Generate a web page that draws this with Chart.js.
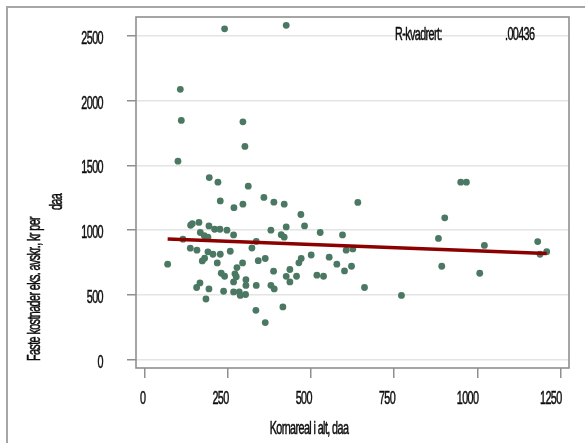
<!DOCTYPE html>
<html>
<head>
<meta charset="utf-8">
<script src="https://cdn.jsdelivr.net/npm/chart.js@4/dist/chart.umd.min.js"></script>
<style>
  html, body { margin: 0; padding: 0; background: #fff; overflow: hidden; }
  #wrap { position: relative; width: 585px; height: 443px; }
  #frame {
    position: absolute; left: 6px; top: 6px; width: 700px; height: 600px;
    border-top: 2px solid #a6a6a6; border-left: 2px solid #a6a6a6;
    pointer-events: none;
  }
  canvas { position: absolute; left: 0; top: 0; }
</style>
</head>
<body>
<div id="wrap">
  <canvas id="myChart" width="585" height="443"></canvas>
  <div id="frame"></div>
</div>
<script>
// Kornareal (daa) and faste kostnader per daa for each farm
const area = [
  241, 426, 108, 111, 296, 302, 101, 195, 221, 312,
  950, 967, 228, 269, 296, 359, 389, 420, 470, 641,
  902, 481, 426, 411, 420, 528, 595, 606, 626, 501,
  555, 471, 464, 578, 437, 601, 622, 426, 457, 518,
  538, 437, 661, 772, 416, 883, 1021, 893, 1007, 1181,
  1188, 1208, 139, 144, 164, 194, 211, 227, 248, 268,
  168, 180, 191, 116, 138, 158, 191, 206, 228, 258,
  323, 336, 380, 181, 174, 219, 295, 342, 363, 278,
  70, 231, 241, 272, 276, 268, 305, 305, 336, 388,
  380, 390, 157, 167, 194, 185, 238, 268, 285, 288,
  304, 335, 363
];
const cost = [
  2556, 2583, 2088, 1848, 1837, 1647, 1533, 1406, 1371, 1340,
  1371, 1371, 1226, 1174, 1201, 1253, 1216, 1201, 1121, 1214,
  1095, 1033, 1025, 965, 946, 982, 963, 845, 855, 808,
  791, 781, 748, 737, 696, 685, 721, 643, 644, 652,
  644, 600, 557, 496, 407, 936, 882, 721, 667, 912,
  814, 834, 1038, 1050, 1060, 1033, 1007, 1007, 1000, 963,
  982, 957, 946, 930, 861, 845, 833, 814, 814, 837,
  862, 913, 1000, 783, 762, 747, 747, 764, 781, 711,
  737, 667, 644, 663, 640, 600, 617, 573, 573, 683,
  574, 546, 557, 592, 546, 468, 528, 523, 523, 496,
  503, 381, 286
];

// fitted line end points
const fitX = [70, 1208];
const fitY = [932, 820];
const rSquared = ".00436";

const xTicks = [0, 250, 500, 750, 1000, 1250];
const yTicks = [0, 500, 1000, 1500, 2000, 2500];

const FONT = '18px "Liberation Sans", Arial, sans-serif';
const SQUEEZE = 0.6;

// narrow, tightly packed text like the old SPSS output
function squish(ctx, text, x, y, align, angle) {
  ctx.save();
  ctx.translate(x, y);
  if (angle) ctx.rotate(angle);
  ctx.scale(SQUEEZE, 1);
  ctx.letterSpacing = "-1px";
  ctx.textAlign = align;
  ctx.fillText(text, 0, 0);
  ctx.strokeText(text, 0, 0);
  ctx.restore();
}

const frameAndText = {
  id: "frameAndText",
  beforeDatasetsDraw(chart) {
    const { ctx, chartArea: a } = chart;
    ctx.save();
    ctx.strokeStyle = "#8f8f8f";
    ctx.lineWidth = 1.6;
    ctx.strokeRect(a.left, a.top, a.right - a.left, a.bottom - a.top);
    ctx.restore();
  },
  afterDraw(chart) {
    const { ctx, chartArea: a } = chart;
    const sx = chart.scales.x, sy = chart.scales.y;
    ctx.save();
    ctx.fillStyle = "#0d0d0d";
    ctx.strokeStyle = "#0d0d0d";
    ctx.lineWidth = 0.5;
    ctx.font = FONT;
    ctx.textBaseline = "alphabetic";

    yTicks.forEach(v => squish(ctx, String(v), a.left - 33, sy.getPixelForValue(v) + 8, "right"));
    xTicks.forEach(v => squish(ctx, String(v), sx.getPixelForValue(v) + 1, a.bottom + 36, "right"));

    squish(ctx, "Kornareal i alt, daa", a.left + 173, a.bottom + 66, "center");

    ctx.textBaseline = "middle";
    squish(ctx, "Faste kostnader eks. avskr., kr per", 35, a.bottom - 79, "center", -Math.PI / 2);
    squish(ctx, "daa", 57, a.top + 185, "center", -Math.PI / 2);

    ctx.textBaseline = "alphabetic";
    squish(ctx, "R-kvadrert:", a.left + 259, a.top + 23, "left");
    squish(ctx, rSquared, a.left + 369, a.top + 23, "left");
    ctx.restore();
  }
};

const points = area.map((x, i) => ({ x: x, y: cost[i] }));
const fit = fitX.map((x, i) => ({ x: x, y: fitY[i] }));

const ctx = document.querySelector("#myChart").getContext("2d");

const config = {
  type: "scatter",
  data: {
    datasets: [
      {
        type: "line",
        data: fit,
        borderColor: "#8c0000",
        borderWidth: 3.5,
        pointRadius: 0,
        borderCapStyle: "butt",
      },
      {
        data: points,
        backgroundColor: "#4b7862",
        borderColor: "#4b7862",
        borderWidth: 0,
        pointRadius: 3.4,
      },
    ],
  },
  options: {
    responsive: false,
    animation: false,
    layout: { padding: { top: 17, right: 16, left: 0, bottom: 0 } },
    plugins: {
      legend: { display: false },
      tooltip: { enabled: false },
    },
    scales: {
      x: {
        type: "linear",
        min: -25,
        max: 1275,
        afterBuildTicks: (s) => { s.ticks = xTicks.map(v => ({ value: v })); },
        afterFit: (s) => { s.height = 75; },
        ticks: { display: false },
        border: { display: false },
        grid: {
          drawOnChartArea: false,
          drawTicks: true,
          tickLength: 10,
          tickColor: "#8f8f8f",
          lineWidth: 1.5,
        },
      },
      y: {
        min: -65,
        max: 2647,
        afterBuildTicks: (s) => { s.ticks = yTicks.map(v => ({ value: v })); },
        afterFit: (s) => { s.width = 136; },
        ticks: { display: false },
        border: { display: false },
        grid: {
          color: "#e4e4e4",
          lineWidth: 1.5,
          drawTicks: true,
          tickLength: 9,
          tickColor: "#8f8f8f",
        },
      },
    },
  },
  plugins: [frameAndText],
};

const myChart = new Chart(ctx, config);
</script>
</body>
</html>
